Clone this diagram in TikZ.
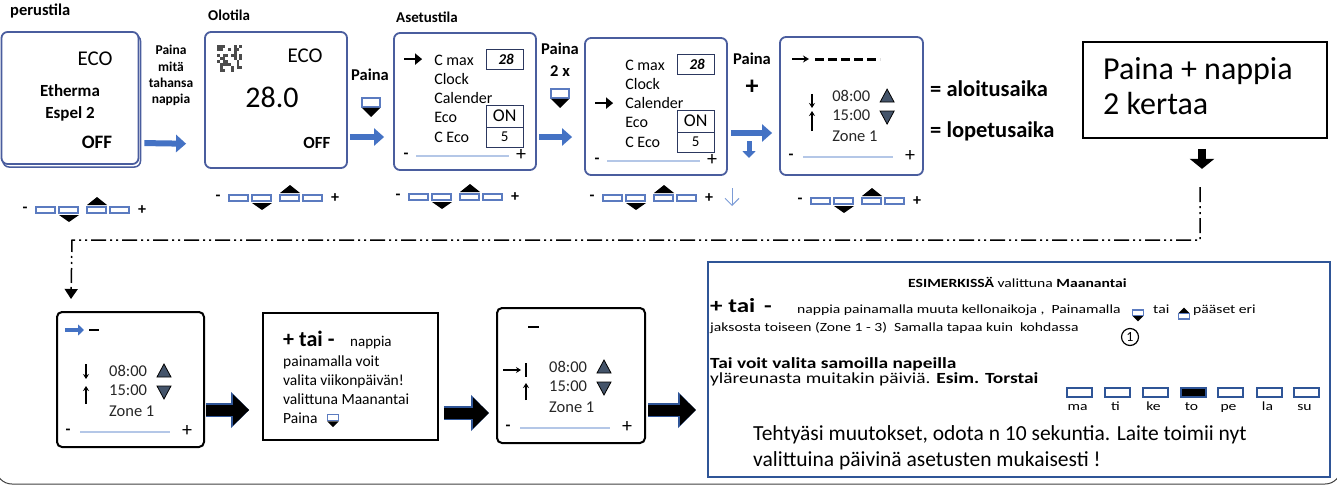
\documentclass[tikz,border=0pt]{standalone}
\usepackage{fontspec}
\setmainfont{Carlito}
\newfontfamily\levea[FakeStretch=1.25]{Carlito}
\usetikzlibrary{calc,positioning,arrows.meta}
\definecolor{reunasini}{HTML}{4A5D9E}
\definecolor{nuolisini}{HTML}{4472C4}
\definecolor{tummasini}{HTML}{2F5597}
\definecolor{vaaleasini}{HTML}{B4C7E7}
\definecolor{nappisini}{HTML}{5B7BC0}
\definecolor{kolmiosini}{HTML}{44546A}
\definecolor{tumma}{HTML}{262626}
\newcommand{\koko}[2]{\fontsize{#1}{#2}\selectfont}
\tikzset{
	>=Stealth,
	naytto/.style={draw=reunasini, line width=1.8pt, rounded corners=6pt, fill=white, inner sep=0pt},
	mustanaytto/.style={draw=black, line width=2pt, rounded corners=5pt, fill=white, inner sep=0pt},
	laatikko/.style={draw=black, line width=1.8pt, fill=white, inner sep=0pt},
	otsikko/.style={font=\bfseries\koko{15}{18}, anchor=base west, inner sep=0pt},
	valikkoteksti/.style={font=\koko{16}{19}, anchor=base west, inner sep=0pt},
	aika/.style={font=\koko{16.5}{19}, text=tumma, anchor=base west, inner sep=0pt},
	arvolaatikko/.style={draw=reunasini!60!black, line width=1pt},
	sininuoli/.style={draw=nuolisini, line width=6pt, -{Triangle[length=10pt,width=17pt]}},
	mustanuoli/.style={draw=black, line width=8pt, -{Triangle[length=10pt,width=24pt]}},
	paksunuoli/.style={draw=black, line width=11pt, -{Triangle[length=16pt,width=30pt]},
		preaction={draw=tummasini, line width=14pt, -{Triangle[length=18pt,width=35pt]}}},
	katko/.style={line width=1.5pt, dash pattern=on 15pt off 4pt on 2pt off 4pt on 2pt off 4pt},
	nappi/.style={draw=nappisini, line width=1.1pt, fill=white},
	liukusaadin/.style={draw=vaaleasini, line width=1.5pt},
	paiva/.style={draw=tummasini, line width=1.6pt, minimum width=25pt, minimum height=9pt, inner sep=0pt},
	pieni/.style={font=\levea\koko{12.5}{15}, anchor=base west, inner sep=0pt},
	pics/nappirivi/.style={code={
		\node[font=\bfseries\koko{16}{16}] at (0,0) {-};
		\foreach \a in {11,34,62,85}
			\draw[nappi] (\a,-3) rectangle ++(19,6);
		\fill (62,-5) -- (82,-5) -- (72,-13) -- cycle;
		\fill (34,5) -- (54,5) -- (44,12) -- cycle;
		\node[font=\bfseries\koko{16}{16}] at (117,0) {+};
	}},
	pics/alasnappi/.style={code={
		\draw[nappi] (-9,-5) rectangle (9,4);
		\fill (-9,5) -- (9,5) -- (0,14) -- cycle;
	}},
	pics/ylosnappi/.style={code={
		\fill (-9,-5) -- (9,-5) -- (0,-14) -- cycle;
		\draw[nappi] (-9,-4) rectangle (9,5);
	}},
	pics/valikko/.style={code={
		\foreach \nimi [count=\i] in {C max,Clock,Calender,Eco,C Eco}
			\node[valikkoteksti] at (41,{13.7+19.3*\i}) {\nimi};
		\draw[line width=2.5pt, -{Triangle[length=7pt,width=11pt]}] (11,#1) -- (29,#1);
		\draw[arvolaatikko] (93,17) rectangle (130,37);
		\node[font=\bfseries\itshape\koko{15}{18}] at (113,27) {28};
		\draw[arvolaatikko] (93,73) rectangle (130,95);
		\node[font=\koko{18}{20}] at (111.5,84) {ON};
		\draw[arvolaatikko] (93,95) rectangle (130,115);
		\node[font=\koko{15}{18}] at (111.5,105) {5};
		\node[font=\bfseries\koko{16}{16}] at (13,124) {-};
		\draw[liukusaadin] (23,124) -- (116,124);
		\node[font=\koko{20}{20}] at (128,123) {+};
	}},
	pics/ajat/.style={code={
		\node[aika] at (53,65) {08:00};
		\node[aika] at (53,84) {15:00};
		\node[aika] at (53,105) {Zone 1};
		\draw[fill=kolmiosini, line width=0.8pt] (101,66) -- (115,66) -- (108,53) -- cycle;
		\draw[fill=kolmiosini, line width=0.8pt] (101,75) -- (115,75) -- (108,88) -- cycle;
		\node[font=\bfseries\koko{16}{16}] at (12,121) {-};
		\draw[liukusaadin] (24,121) -- (114,121);
		\node[font=\koko{20}{20}] at (131,120) {+};
	}},
}
\begin{document}
\begin{tikzpicture}[x=1pt, y=-1pt, inner sep=0pt]
	\useasboundingbox (0,0) rectangle (1337,484);
	\draw[black!75, line width=1pt, rounded corners=16pt] (-4,-200) rectangle (1341,484);

	% ylarivi
	\node[otsikko, font=\bfseries\koko{16.5}{20}] (perusotsikko) at (10,16) {perustila};
	\node[otsikko] (olootsikko) at (208,21) {Olotila};
	\node[otsikko] (asetusotsikko) at (396,23) {Asetustila};

	\draw[reunasini, line width=1.5pt, rounded corners=6pt] (3,35) rectangle (140.5,167);
	\node[naytto, minimum width=137pt, minimum height=132pt] (perus) at (70,98) {};
	\node[naytto, minimum width=142pt, minimum height=136pt] (olo) at (276,100) {};
	\node[naytto, minimum width=142pt, minimum height=137pt] (asetus) at (465,101.5) {};
	\node[naytto, minimum width=142pt, minimum height=137pt] (kalenteri) at (656,106.5) {};
	\node[naytto, minimum width=143pt, minimum height=138pt] (ajastus) at (851.5,106) {};
	\node[laatikko, minimum width=244pt, minimum height=96pt] (ohje) at (1205,90) {};

	% perustila
	\node[font=\koko{21}{25}, anchor=base] (eco1) at (95,66) {ECO};
	\node[font=\bfseries\koko{17}{20}, anchor=base] (malli1) at (70,97) {Etherma};
	\node[font=\bfseries\koko{17}{20}, anchor=base] (malli2) at (70,118) {Espel 2};
	\node[font=\bfseries\koko{19}{22}, anchor=base] (off1) at (97,148) {OFF};
	\node[font=\bfseries\koko{13.5}{16}, align=center, anchor=base] (paina1) at (171,103) {Paina\\mitä\\tahansa\\nappia};

	% olotila
	\pgfmathsetseed{11}
	\foreach \i in {0,...,8}
		\foreach \j in {0,...,8}{
			\pgfmathsetmacro{\arvo}{rnd}
			\ifdim\arvo pt>0.5pt \fill[black!70] ({217+2.8*\i},{45+3*\j}) rectangle ++(2.8,3); \fi
		}
	\node[font=\koko{21}{25}, anchor=base] (eco2) at (305,63) {ECO};
	\node[font=\koko{30}{36}, anchor=base] (lampo) at (272,107) {28.0};
	\node[font=\bfseries\koko{17}{20}, anchor=base] (off2) at (317,148) {OFF};
	\node[font=\bfseries\koko{16.5}{20}, anchor=base] (paina2) at (370,81) {Paina};
	\pic at (371,103) {alasnappi};

	% asetustila
	\pic at (asetus.north west) {valikko=27};
	\node[font=\bfseries\koko{16.5}{22}, align=center, anchor=base] (paina3) at (560,77) {Paina\\2 x};
	\pic at (560,94) {alasnappi};

	\pic at (kalenteri.north west) {valikko=66};
	\node[font=\bfseries\koko{16.5}{20}, anchor=base] (paina4) at (752,65) {Paina};
	\node[font=\bfseries\koko{26}{26}] (plus4) at (752,87) {+};
	\draw[sininuoli, line width=5pt, -{Triangle[length=7pt,width=13pt]}] (749,141) -- (749,158);
	\draw[nuolisini!70, line width=1pt, -{Straight Barb[length=7pt,width=14pt]}] (732,188) -- (732,206);

	% ajastus
	\pic at (ajastus.north west) {ajat};
	\draw[line width=1.2pt, -{Stealth[length=6pt,width=7pt]}] (792,59) -- (809,59);
	\draw[line width=3pt, dash pattern=on 9pt off 4pt] (815,60) -- (880,60);
	\draw[line width=1.2pt, -{Stealth[length=5pt,width=6pt]}] (812,94) -- (812,108);
	\draw[line width=1.2pt, -{Stealth[length=5pt,width=6pt]}] (812,131) -- (812,111);
	\node[font=\bfseries\koko{22.5}{27}, anchor=base west] (aloitusaika) at (930,97) {= aloitusaika};
	\node[font=\bfseries\koko{22.5}{27}, anchor=base west] (lopetusaika) at (930,137) {= lopetusaika};

	\node[font=\koko{32}{35}, align=left, anchor=base west] (ohjeteksti) at (1103,114) {Paina + nappia\\2 kertaa};

	% napit
	\pic at (25,210) {nappirivi};
	\pic at (218,198) {nappirivi};
	\pic at (398,197) {nappirivi};
	\pic at (592,198) {nappirivi};
	\pic at (800,201) {nappirivi};

	% nuolet ylhaalla
	\draw[sininuoli, shorten <=5pt, shorten >=18pt] ([yshift=-45pt]perus.east) -- ([yshift=-44pt]olo.west);
	\draw[sininuoli, shorten <=2pt, shorten >=9pt] ([yshift=-37pt]olo.east) -- ([yshift=-35.5pt]asetus.west);
	\draw[sininuoli, shorten <=2pt, shorten >=12pt] ([yshift=-35.5pt]asetus.east) -- ([yshift=-30.5pt]kalenteri.west);
	\draw[sininuoli, shorten <=3pt, shorten >=7pt] ([yshift=-26.5pt]kalenteri.east) -- ([yshift=-27pt]ajastus.west);

	% alarivi
	\node[mustanaytto, minimum width=147pt, minimum height=135pt] (viikko1) at (130.5,379.5) {};
	\node[laatikko, minimum width=175pt, minimum height=127pt] (viikko2) at (350.5,376.5) {};
	\node[mustanaytto, minimum width=148pt, minimum height=135pt] (viikko3) at (571,375.5) {};
	\node[draw=tummasini, line width=2pt, minimum width=622pt, minimum height=215pt] (esimerkki) at (1019,369.5) {};

	\draw[mustanuoli] ([xshift=-3pt, yshift=-10pt]ohje.south) -- ++(0,20);
	\coordinate (alku) at (1200,187);
	\coordinate (mutka) at (72,240);
	\draw[katko, -{Triangle[length=10pt,width=13pt]}] (alku) |- (mutka) -- ([xshift=15pt, yshift=12pt]viikko1.north west);

	\pic at (viikko1.north west) {ajat};
	\draw[nuolisini, line width=4pt, -{Triangle[length=6pt,width=11pt]}] (65,330) -- (84,330);
	\draw[line width=2.5pt] (89,330) -- (99,330);
	\draw[line width=1.2pt, -{Stealth[length=5pt,width=6pt]}] (86,364) -- (86,379);
	\draw[line width=1.2pt, -{Stealth[length=5pt,width=6pt]}] (86,404) -- (86,386);

	\node[font=\bfseries\koko{22}{26}, anchor=base west] (taiA) at (283,346) {+ tai -};
	\node[font=\koko{15}{19}, anchor=base west] (nappiaA) at (350,346) {nappia};
	\node[font=\koko{15.5}{19}, align=left, anchor=base west] (valinta) at (283,423) {painamalla voit\\valita viikonpäivän!\\valittuna Maanantai\\Paina};
	\pic[scale=0.65] at (333,418) {alasnappi};

	\pic at (viikko3.north west) {ajat};
	\draw[line width=2.5pt] (528,327) -- (539,327);
	\draw[line width=1.2pt, -{Stealth[length=5pt,width=6pt]}] (503,370) -- (521,370);
	\draw[line width=1.2pt] (526,363) -- (526,377);
	\draw[line width=1.2pt, -{Stealth[length=5pt,width=6pt]}] (526,400) -- (526,383);

	\draw[paksunuoli, shorten <=1pt, shorten >=13pt] ([yshift=-30.5pt]viikko1.east) -- ([yshift=-33.5pt]viikko2.west);
	\draw[paksunuoli, shorten <=5pt, shorten >=7pt] ([yshift=-36.5pt]viikko2.east) -- ([yshift=-37.5pt]viikko3.west);
	\draw[paksunuoli, shorten <=2pt, shorten >=11pt] ([yshift=-34.5pt]viikko3.east) -- ([yshift=-40.5pt]esimerkki.west);

	% esimerkki
	\node[pieni] (esim1) at (908,287) {\textbf{ESIMERKISSÄ} valittuna \textbf{Maanantai}};
	\node[font=\levea\bfseries\koko{20}{24}, anchor=base west] (taiB) at (710,312) {+ tai\, -};
	\node[pieni] (esim2) at (797,313) {nappia painamalla muuta kellonaikoja ,\ \ Painamalla};
	\pic[scale=0.6] at (1138,313) {alasnappi};
	\node[pieni] (esim3) at (1153,313) {tai};
	\pic[scale=0.6] at (1184,316) {ylosnappi};
	\node[pieni] (esim4) at (1193,313) {pääset eri};
	\node[pieni] (esim5) at (710,331) {jaksosta toiseen (Zone 1 - 3)\ \ Samalla tapaa kuin\ \ kohdassa};
	\node[draw, circle, line width=1.2pt, minimum size=17pt, font=\koko{14}{14}] (kohta1) at (1130,337) {1};
	\node[font=\levea\bfseries\koko{15.5}{18}, anchor=base west] (esim6) at (710,368) {Tai voit valita samoilla napeilla};
	\node[font=\levea\koko{15.5}{18}, anchor=base west] (esim7) at (710,383) {yläreunasta muitakin päiviä. \textbf{Esim. Torstai}};
	\foreach \x/\p/\v [count=\i] in {1079.5/ma/white,1117.5/ti/white,1155.5/ke/white,1193.5/to/black,1230.5/pe/white,1269.5/la/white,1306.5/su/white}{
		\node[paiva, fill=\v] (pv\i) at (\x,392.5) {};
		\node[font=\levea\koko{12.5}{15}, anchor=base] (pvt\i) at ([xshift=-2pt]\x,410) {\p};
	}
	\node[font=\koko{21.5}{26}, align=left, anchor=base west] (loppu) at (753,466) {Tehtyäsi muutokset, odota n 10 sekuntia. Laite toimii nyt\\valittuina päivinä asetusten mukaisesti !};
\end{tikzpicture}
\end{document}
